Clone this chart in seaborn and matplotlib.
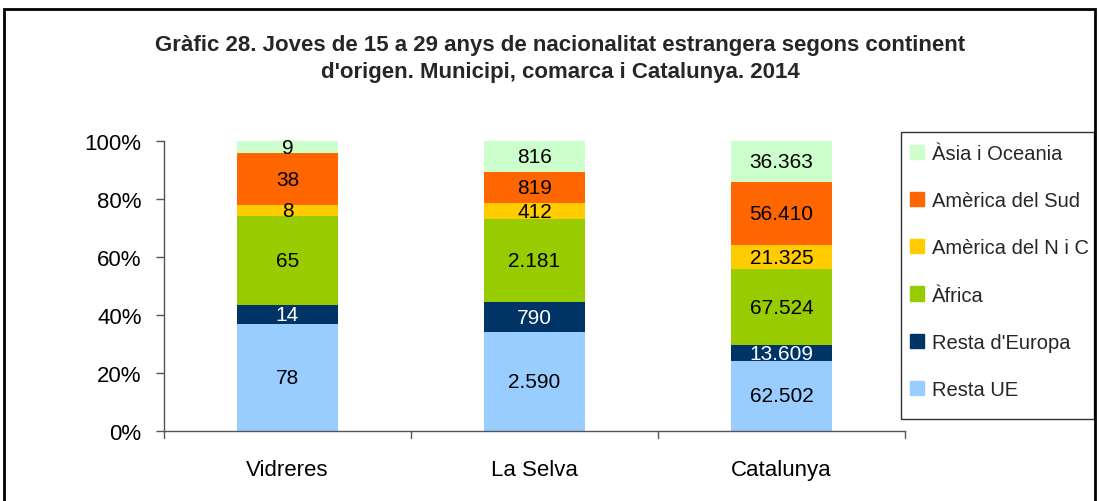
import matplotlib
matplotlib.use("Agg")
import matplotlib.pyplot as plt
import matplotlib.patches as mpatches
import seaborn as sns
import pandas as pd
import numpy as np

categories = ["Vidreres", "La Selva", "Catalunya"]
series = ["Resta UE", "Resta d'Europa", "Àfrica", "Amèrica del N i C", "Amèrica del Sud", "Àsia i Oceania"]
resta_ue = [78, 2590, 62502]
resta_europa = [14, 790, 13609]
africa = [65, 2181, 67524]
america_nc = [8, 412, 21325]
america_sud = [38, 819, 56410]
asia_oceania = [9, 816, 36363]
colors = ["#99CCFF", "#003366", "#99CC00", "#FFCC00", "#FF6600", "#CCFFCC"]
text_colors = ["black", "white", "black", "black", "black", "black"]
yticks = [0, 20, 40, 60, 80, 100]

sns.set_theme(style="white")
plt.rcParams["font.family"] = ["Liberation Sans", "DejaVu Sans"]

values = np.array([resta_ue, resta_europa, africa, america_nc, america_sud, asia_oceania], dtype=float)
totals = values.sum(axis=0)
pct = values / totals * 100
cum = np.cumsum(pct, axis=0)

W, H = 1099, 502
fig = plt.figure(figsize=(W / 100, H / 100), dpi=100)
ax = fig.add_axes([0.1492, 0.1394, 0.6743, 0.5777])

# draw from top layer down so each lower cumulative bar covers the one above
for i in range(len(series) - 1, -1, -1):
    df = pd.DataFrame({"cat": categories, "val": cum[i]})
    sns.barplot(data=df, x="cat", y="val", color=colors[i], saturation=1,
                width=0.41, ax=ax, linewidth=0, legend=False)

for i in range(len(series)):
    for j in range(len(categories)):
        mid = cum[i, j] - pct[i, j] / 2
        lab = f"{int(values[i, j]):,}".replace(",", ".")
        ax.text(j, mid, lab, ha="center", va="center", fontsize=15,
                color=text_colors[i])

ax.set_xlim(-0.5, 2.5)
ax.set_ylim(0, 100)
ax.set_yticks(yticks)
ax.set_yticklabels([f"{t}%" for t in yticks], fontsize=16, color="black")
ax.set_xticks([0, 1, 2])
ax.set_xticklabels(categories, fontsize=16, color="black")
ax.tick_params(axis="x", length=0, pad=20)
ax.tick_params(axis="y", left=True, length=6, width=1, color="#555555", pad=10)
ax.set_xlabel("")
ax.set_ylabel("")
for s in ["top", "right"]:
    ax.spines[s].set_visible(False)
for s in ["left", "bottom"]:
    ax.spines[s].set_color("#555555")
    ax.spines[s].set_linewidth(1)
# boundary ticks on x axis
for b in [-0.5, 0.5, 1.5, 2.5]:
    ax.plot([b, b], [0, -2.5], color="#555555", lw=1, clip_on=False)

handles = [mpatches.Patch(color=colors[i], label=series[i]) for i in range(len(series) - 1, -1, -1)]
leg = fig.legend(handles=handles, loc="upper left", bbox_to_anchor=(910 / W, 1 - 145 / H),
                 fontsize=14.5, frameon=False,
                 labelspacing=1.4, handlelength=0.7, handleheight=0.7,
                 handletextpad=0.4, borderpad=0, borderaxespad=0)

legend_box = mpatches.Rectangle((901 / W, 1 - 420 / H), 193 / W, 287 / H,
                                transform=fig.transFigure, fill=False,
                                edgecolor="#333333", linewidth=1)
fig.patches.append(legend_box)

fig.text(0.51, 0.8825,
         "Gràfic 28. Joves de 15 a 29 anys de nacionalitat estrangera segons continent\nd'origen. Municipi, comarca i Catalunya. 2014",
         ha="center", va="center", fontsize=16, fontweight="bold", linespacing=1.4)

border = mpatches.Rectangle((4 / W, -0.02), 1091 / W, 1 - 10 / H + 0.02,
                            transform=fig.transFigure, fill=False, edgecolor="black",
                            linewidth=2, clip_on=False)
fig.patches.append(border)

fig.savefig("out.png", dpi=100)
